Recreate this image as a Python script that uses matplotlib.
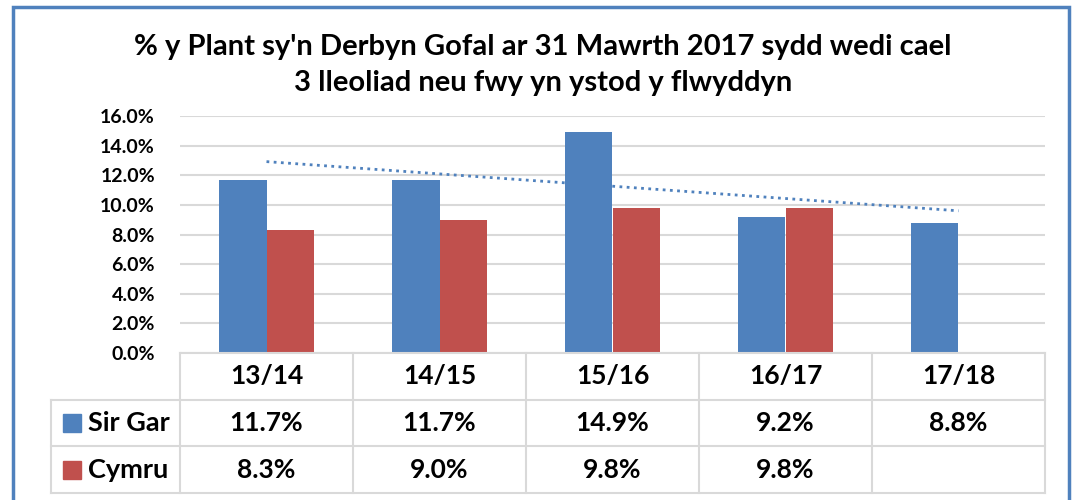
import numpy as np
import matplotlib.pyplot as plt
from matplotlib.patches import Rectangle

plt.rcParams['font.family'] = ['Lato', 'DejaVu Sans']
plt.rcParams['font.weight'] = 'bold'

years = ["13/14", "14/15", "15/16", "16/17", "17/18"]
sir_gar = [11.7, 11.7, 14.9, 9.2, 8.8]
cymru = [8.3, 9.0, 9.8, 9.8, np.nan]
series_names = ["Sir Gar", "Cymru"]
title = "% y Plant sy'n Derbyn Gofal ar 31 Mawrth 2017 sydd wedi cael\n3 lleoliad neu fwy yn ystod y flwyddyn"

blue = "#4F81BD"
red = "#C0504D"
grid_col = "#D9D9D9"

W, H = 1075, 500
fig = plt.figure(figsize=(W / 100, H / 100), dpi=100)

# outer blue frame
fig.patches.append(Rectangle((13 / W, -0.05), (1069 - 13) / W, 1.05 - 7 / H,
                             transform=fig.transFigure, fill=False,
                             edgecolor=blue, lw=2.5))

fig.text(543 / W, 1 - 65 / H, title, ha="center", va="center",
         fontsize=21, fontweight="bold", linespacing=1.45)

# bar axes
left, right, top, bottom = 180, 1045, 116, 353
ax = fig.add_axes([left / W, 1 - bottom / H, (right - left) / W, (bottom - top) / H])
x = np.arange(len(years))
bw = 0.275
ax.bar(x - bw / 2, sir_gar, bw, color=blue, zorder=3)
ax.bar(x + bw / 2, cymru, bw, color=red, zorder=3)

# linear trendline for Sir Gar
coef = np.polyfit(x, sir_gar, 1)
ax.plot(x, np.polyval(coef, x), color=blue, lw=2, ls=(0, (1, 1.6)), zorder=4)

ax.set_xlim(-0.5, len(years) - 0.5)
ax.set_ylim(0, 16)
ax.set_yticks(np.arange(0, 17, 2))
ax.set_yticklabels([f"{v:.1f}%" for v in np.arange(0, 17, 2)], fontsize=14, fontweight="bold")
ax.tick_params(axis="y", length=0, pad=18)
ax.set_xticks([])
ax.grid(axis="y", color=grid_col, lw=1.5, zorder=0)
for s in ax.spines.values():
    s.set_visible(False)

# data table below
tb_bottom = 493
tax = fig.add_axes([left / W, 1 - tb_bottom / H, (right - left) / W, (tb_bottom - bottom) / H])
tax.set_xlim(-0.5, len(years) - 0.5)
tax.set_ylim(0, 3)
tax.axis("off")
col_px = (right - left) / len(years)
row_px = (tb_bottom - bottom) / 3
lab_left = -0.5 - (left - 51) / col_px

kw = dict(color=grid_col, lw=1.5, clip_on=False)
tax.plot([-0.5, len(years) - 0.5], [3, 3], **kw)
for yy in [2, 1, 0]:
    tax.plot([lab_left, len(years) - 0.5], [yy, yy], **kw)
for i in range(len(years) + 1):
    tax.plot([i - 0.5, i - 0.5], [0, 3], **kw)
tax.plot([lab_left, lab_left], [0, 2], **kw)

for i, yr in enumerate(years):
    tax.text(i, 2.5, yr, ha="center", va="center", fontsize=19, fontweight="bold")
for row, (name, vals, col) in enumerate(zip(series_names, [sir_gar, cymru], [blue, red])):
    yc = 1.5 - row
    sq = 18 / row_px
    tax.add_patch(Rectangle((lab_left + 12 / col_px, yc - sq / 2), 18 / col_px, sq,
                            color=col, clip_on=False))
    tax.text(lab_left + 37 / col_px, yc, name, ha="left", va="center", fontsize=19.5, fontweight="bold")
    for i, v in enumerate(vals):
        if not np.isnan(v):
            tax.text(i, yc, f"{v:.1f}%", ha="center", va="center", fontsize=19, fontweight="bold")

fig.savefig("out.png", dpi=100)
